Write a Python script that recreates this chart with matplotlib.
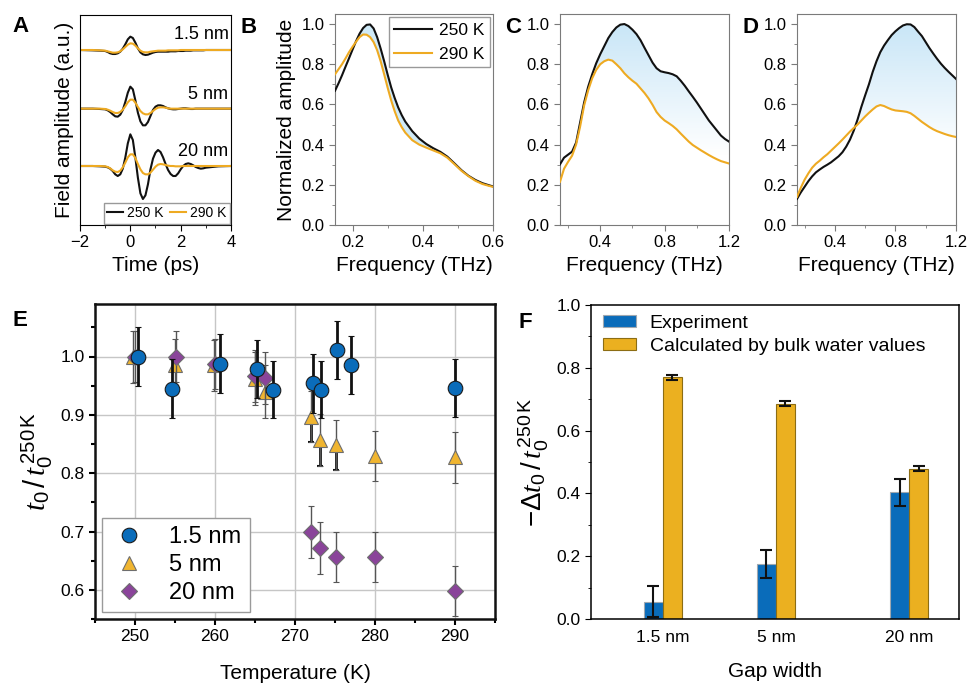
import numpy as np
import matplotlib
matplotlib.use('Agg')
import matplotlib.pyplot as plt
from matplotlib.colors import LinearSegmentedColormap
from matplotlib.lines import Line2D
from matplotlib.path import Path

plt.rcParams['font.family'] = ['Liberation Sans', 'DejaVu Sans']
plt.rcParams['mathtext.fontset'] = 'custom'
plt.rcParams['mathtext.rm'] = 'Liberation Sans'
plt.rcParams['mathtext.it'] = 'Liberation Serif:italic'
plt.rcParams['mathtext.bf'] = 'Liberation Sans:bold'

BLACK = '#111111'
YELLOW = '#eeaa22'

# ---- panel A: time-domain fields (a.u.), offset per gap ----
time_ps = np.concatenate(([-2.0, -1.5, -1.2], np.round(np.arange(-1.0, 3.05, 0.1), 2), [3.5, 4.0]))
black_20 = [0.00, 0.00, -0.01, -0.02, -0.04, -0.08, -0.15, -0.25, -0.30, -0.25,
            -0.08, 0.25, 0.68, 0.95, 0.78, 0.25, -0.35, -0.82, -0.99, -0.88,
            -0.55, -0.10, 0.22, 0.40, 0.48, 0.42, 0.26, 0.06, -0.12, -0.24,
            -0.30, -0.30, -0.22, -0.10, 0.00, 0.06, 0.08, 0.06, 0.02, -0.03,
            -0.06, -0.08, -0.07, -0.05, -0.01, 0.00]
yellow_20 = [0.00, 0.00, 0.00, -0.01, -0.03, -0.07, -0.13, -0.17, -0.18, -0.14,
             -0.04, 0.10, 0.26, 0.35, 0.35, 0.24, 0.06, -0.10, -0.21, -0.25,
             -0.25, -0.20, -0.11, -0.02, 0.04, 0.06, 0.05, 0.03, 0.01, 0.00,
             0.00, -0.01, -0.01, -0.01, 0.00, 0.00, 0.00, 0.00, 0.00, 0.00,
             0.00, 0.00, 0.00, 0.00, 0.00, 0.00]
black_5 = [0.00, 0.00, -0.01, -0.02, -0.05, -0.10, -0.17, -0.23, -0.24, -0.18,
           -0.04, 0.20, 0.48, 0.66, 0.58, 0.25, -0.12, -0.38, -0.50, -0.50,
           -0.40, -0.22, -0.04, 0.06, 0.10, 0.10, 0.08, 0.04, 0.01, -0.01,
           -0.02, -0.02, -0.01, 0.00, 0.01, 0.01, 0.00, -0.01, -0.01, 0.00,
           0.00, 0.00, 0.00, 0.00, 0.00, 0.00]
yellow_5 = [0.00, 0.00, 0.00, -0.01, -0.03, -0.06, -0.10, -0.13, -0.13, -0.10,
            -0.03, 0.07, 0.19, 0.27, 0.27, 0.18, 0.05, -0.07, -0.14, -0.17,
            -0.17, -0.13, -0.07, -0.01, 0.03, 0.04, 0.04, 0.03, 0.01, 0.00,
            0.00, 0.00, 0.00, 0.00, 0.00, 0.00, 0.00, 0.00, 0.00, 0.00,
            0.00, 0.00, 0.00, 0.00, 0.00, 0.00]
black_15 = [0.00, -0.01, -0.02, -0.03, -0.06, -0.10, -0.12, -0.12, -0.10, -0.05,
            0.04, 0.17, 0.32, 0.40, 0.36, 0.22, 0.05, -0.07, -0.13, -0.15,
            -0.14, -0.11, -0.08, -0.06, -0.05, -0.05, -0.05, -0.05, -0.05, -0.04,
            -0.04, -0.04, -0.03, -0.03, -0.03, -0.02, -0.02, -0.02, -0.01, -0.01,
            -0.01, -0.01, -0.01, 0.00, 0.00, 0.00]
yellow_15 = [0.00, 0.00, -0.01, -0.02, -0.04, -0.06, -0.08, -0.08, -0.07, -0.04,
             0.02, 0.09, 0.16, 0.20, 0.19, 0.13, 0.05, -0.02, -0.06, -0.07,
             -0.07, -0.05, -0.04, -0.03, -0.02, -0.02, -0.02, -0.02, -0.01, -0.01,
             -0.01, -0.01, -0.01, 0.00, 0.00, 0.00, 0.00, 0.00, 0.00, 0.00,
             0.00, 0.00, 0.00, 0.00, 0.00, 0.00]
gap_names = ['1.5 nm', '5 nm', '20 nm']
gap_offsets = [0.0, -1.76, -3.48]

# ---- panel B: 1.5 nm spectra ----
freq_b = [0.15, 0.16, 0.17, 0.18, 0.19, 0.20, 0.21, 0.22, 0.23, 0.24, 0.25, 0.26, 0.27,
          0.28, 0.29, 0.30, 0.31, 0.32, 0.33, 0.34, 0.35, 0.37, 0.39, 0.41, 0.43, 0.45,
          0.47, 0.49, 0.51, 0.53, 0.55, 0.57, 0.59, 0.60]
amp_b_250 = [0.668, 0.705, 0.745, 0.788, 0.830, 0.873, 0.915, 0.952, 0.980, 0.996, 0.998, 0.978, 0.935,
             0.878, 0.815, 0.748, 0.685, 0.632, 0.585, 0.547, 0.515, 0.467, 0.430, 0.403, 0.382, 0.364,
             0.340, 0.307, 0.273, 0.245, 0.224, 0.208, 0.197, 0.192]
amp_b_290 = [0.750, 0.775, 0.800, 0.829, 0.860, 0.887, 0.912, 0.935, 0.948, 0.947, 0.935, 0.910, 0.870,
             0.815, 0.750, 0.683, 0.620, 0.566, 0.520, 0.487, 0.460, 0.422, 0.400, 0.385, 0.371, 0.357,
             0.335, 0.303, 0.270, 0.243, 0.220, 0.204, 0.194, 0.190]

# ---- panels C, D: 5 nm and 20 nm spectra (0.15 ... 1.2 THz, 0.025 step) ----
freq_cd = np.round(np.linspace(0.15, 1.2, 43), 3)
amp_c_250 = [0.302, 0.335, 0.350, 0.365, 0.410, 0.510, 0.610, 0.688, 0.750, 0.805, 0.850,
             0.890, 0.930, 0.960, 0.983, 0.997, 1.000, 0.990, 0.972, 0.950, 0.920, 0.882,
             0.845, 0.808, 0.780, 0.765, 0.760, 0.756, 0.750, 0.740, 0.718, 0.693, 0.665,
             0.638, 0.610, 0.580, 0.550, 0.520, 0.495, 0.470, 0.445, 0.428, 0.415]
amp_c_290 = [0.215, 0.280, 0.314, 0.345, 0.400, 0.490, 0.595, 0.670, 0.730, 0.772, 0.800,
             0.815, 0.823, 0.818, 0.800, 0.780, 0.755, 0.735, 0.718, 0.703, 0.680, 0.657,
             0.630, 0.598, 0.562, 0.538, 0.520, 0.507, 0.493, 0.476, 0.455, 0.435, 0.415,
             0.398, 0.385, 0.372, 0.360, 0.348, 0.337, 0.327, 0.318, 0.312, 0.306]
amp_d_250 = [0.130, 0.162, 0.190, 0.218, 0.242, 0.262, 0.276, 0.289, 0.300, 0.312, 0.327,
             0.342, 0.362, 0.390, 0.425, 0.470, 0.525, 0.588, 0.645, 0.700, 0.762, 0.815,
             0.860, 0.893, 0.920, 0.945, 0.964, 0.980, 0.993, 0.999, 0.998, 0.985, 0.962,
             0.940, 0.910, 0.880, 0.853, 0.827, 0.803, 0.782, 0.763, 0.745, 0.727]
amp_d_290 = [0.140, 0.185, 0.225, 0.257, 0.285, 0.305, 0.320, 0.337, 0.352, 0.370, 0.388,
             0.406, 0.425, 0.445, 0.465, 0.483, 0.500, 0.520, 0.540, 0.558, 0.575, 0.590,
             0.597, 0.592, 0.583, 0.575, 0.570, 0.568, 0.566, 0.563, 0.556, 0.543, 0.528,
             0.513, 0.500, 0.487, 0.476, 0.467, 0.460, 0.453, 0.447, 0.442, 0.438]

# ---- panel E: t0 ratio vs temperature ----
temp_15 = [250.4, 254.6, 260.6, 265.2, 267.3, 272.3, 273.2, 275.3, 277.0, 290.0]
ratio_15 = [1.000, 0.945, 0.988, 0.979, 0.943, 0.954, 0.943, 1.011, 0.986, 0.946]
err_15 = [0.050, 0.050, 0.050, 0.050, 0.049, 0.050, 0.049, 0.050, 0.050, 0.049]
temp_5 = [249.8, 255.0, 259.9, 265.0, 266.2, 272.0, 273.1, 275.1, 280.0, 290.0]
ratio_5 = [0.999, 0.985, 0.985, 0.962, 0.940, 0.897, 0.857, 0.848, 0.829, 0.827]
err_5 = [0.045, 0.045, 0.044, 0.045, 0.045, 0.044, 0.045, 0.043, 0.043, 0.043]
temp_20 = [250.0, 255.1, 260.0, 265.0, 266.2, 272.0, 273.1, 275.1, 280.0, 290.0]
ratio_20 = [1.000, 1.000, 0.987, 0.967, 0.963, 0.699, 0.672, 0.657, 0.657, 0.598]
err_20 = [0.043, 0.043, 0.043, 0.045, 0.045, 0.044, 0.044, 0.043, 0.043, 0.043]

# ---- panel F: bars ----
gap_labels = ['1.5 nm', '5 nm', '20 nm']
exp_val = [0.055, 0.176, 0.403]
exp_err = [0.050, 0.045, 0.043]
calc_val = [0.770, 0.686, 0.479]
calc_err = [0.008, 0.009, 0.008]

W, H = 969, 685
fig = plt.figure(figsize=(W / 100, H / 100), dpi=100)


def box(l, t, r, b):
    return [l / W, 1 - b / H, (r - l) / W, (b - t) / H]


def letter(x, y, s):
    fig.text(x / W, 1 - y / H, s, fontsize=16, fontweight='bold', va='top', ha='left')


# ---------- A ----------
axA = fig.add_axes(box(80, 15, 231, 225))
for off, bk, yl in zip(gap_offsets, [black_15, black_5, black_20], [yellow_15, yellow_5, yellow_20]):
    axA.plot(time_ps, np.array(bk) + off, color=BLACK, lw=1.5)
    axA.plot(time_ps, np.array(yl) + off, color=YELLOW, lw=1.5)
for off, name in zip(gap_offsets, gap_names):
    axA.text(3.9, off + 0.45 - (0.03 if off else 0), name, ha='right', va='center', fontsize=13)
axA.set_xlim(-2, 4)
axA.set_ylim(-5.25, 1.05)
axA.set_yticks([])
axA.set_xticks([-2, 0, 2, 4])
axA.set_xticks([-1, 1, 3], minor=True)
axA.set_xticklabels(['\u22122', '0', '2', '4'])
axA.tick_params(labelsize=12, length=4)
axA.tick_params(which='minor', length=2.5)
axA.set_xlabel('Time (ps)', fontsize=15)
axA.set_ylabel('Field amplitude (a.u.)', fontsize=15, labelpad=4)
axA.legend([Line2D([], [], color=BLACK, lw=1.5), Line2D([], [], color=YELLOW, lw=1.5)],
           ['250 K', '290 K'], ncol=2, loc='lower right', fontsize=10, handlelength=1.1,
           handletextpad=0.3, columnspacing=0.5, borderpad=0.25, borderaxespad=0.1,
           fancybox=False, edgecolor='#999999', framealpha=1)
letter(12, 16, 'A')


def spectrum_axes(rect, freq, hot, cold, xlim, xmaj, xmin, gradient):
    ax = fig.add_axes(rect)
    f = np.array(freq)
    hot = np.array(hot)
    cold = np.array(cold)
    if gradient:
        poly = ax.fill_between(f, hot, cold, where=hot >= cold, interpolate=True,
                               facecolor='none', edgecolor='none')
        cmap = LinearSegmentedColormap.from_list('fade', ['#ffffff', '#c9e6f7'])
        grad = np.linspace(0, 1.05, 256)[:, None]
        im = ax.imshow(grad, extent=[xlim[0], xlim[1], 0, 1.05], origin='lower',
                       cmap=cmap, vmin=0.35, vmax=1.0, aspect='auto', zorder=1)
        im.set_clip_path(Path.make_compound_path(*poly.get_paths()), transform=ax.transData)
    else:
        ax.fill_between(f, hot, cold, where=hot >= cold, interpolate=True,
                        color='#cfeaf8', lw=0, zorder=1)
    ax.plot(f, hot, color=BLACK, lw=1.5, zorder=3, label='250 K')
    ax.plot(f, cold, color=YELLOW, lw=1.5, zorder=4, label='290 K')
    ax.set_xlim(*xlim)
    ax.set_ylim(0, 1.05)
    ax.set_yticks(np.arange(0, 1.01, 0.2))
    ax.set_yticks(np.arange(0, 1.01, 0.1), minor=True)
    ax.set_xticks(xmaj)
    ax.set_xticks(xmin, minor=True)
    ax.set_xticklabels([f'{v:.1f}' for v in xmaj])
    ax.set_yticklabels([f'{v:.1f}' for v in np.arange(0, 1.01, 0.2)])
    for s in ax.spines.values():
        s.set_color('#7a7a7a')
    ax.tick_params(labelsize=12, length=4, color='#7a7a7a')
    ax.tick_params(which='minor', length=2.5, color='#7a7a7a')
    ax.set_xlabel('Frequency (THz)', fontsize=15)
    return ax


axB = spectrum_axes(box(335, 14, 493, 225), freq_b, amp_b_250, amp_b_290, (0.15, 0.6),
                    [0.2, 0.4, 0.6], [0.3, 0.5], False)
axB.set_ylabel('Normalized amplitude', fontsize=15, labelpad=4)
axB.legend(loc='upper right', fontsize=12.5, handlelength=2.2, handletextpad=0.4,
           borderpad=0.3, borderaxespad=0.2, fancybox=False, edgecolor='#999999', framealpha=1)
letter(241, 17, 'B')

axC = spectrum_axes(box(560, 14, 729, 225), freq_cd, amp_c_250, amp_c_290, (0.15, 1.2),
                    [0.4, 0.8, 1.2], [0.2, 0.6, 1.0], True)
letter(505, 17, 'C')
axD = spectrum_axes(box(797, 14, 956, 225), freq_cd, amp_d_250, amp_d_290, (0.15, 1.2),
                    [0.4, 0.8, 1.2], [0.2, 0.6, 1.0], True)
letter(743, 17, 'D')

# ---------- E ----------
axE = fig.add_axes(box(95, 304, 495, 619))
axE.grid(True, color='#c6c6c6', lw=1, zorder=0)
axE.set_axisbelow(True)
h5 = axE.errorbar(temp_5, ratio_5, yerr=err_5, fmt='^', ms=10.5, mfc='#f0b530', mec='#6e6e6e',
                  mew=0.8, ecolor='#555555', elinewidth=1, capsize=2.5, capthick=1, zorder=3)
bold = slice(5, 8)
axE.errorbar(temp_5[bold], ratio_5[bold], yerr=[err_5[bold], [0] * 3], fmt='none', ecolor=BLACK,
             elinewidth=2, capsize=2, capthick=1.5, zorder=2)
h20 = axE.errorbar(temp_20, ratio_20, yerr=err_20, fmt='D', ms=8.5, mfc='#8a449a', mec='#6e6e6e',
                   mew=0.8, ecolor='#555555', elinewidth=1, capsize=2.5, capthick=1, zorder=4)
h15 = axE.errorbar(temp_15, ratio_15, yerr=err_15, fmt='o', ms=10.5, mfc='#0a6cba', mec='#1a1a1a',
                   mew=0.8, ecolor=BLACK, elinewidth=2, capsize=2, capthick=1.5, zorder=5)
axE.set_xlim(245, 295)
axE.set_ylim(0.553, 1.09)
axE.set_xticks([250, 260, 270, 280, 290])
axE.set_xticks([245, 255, 265, 275, 285, 295], minor=True)
axE.set_yticks([0.6, 0.7, 0.8, 0.9, 1.0])
axE.set_yticks([0.55, 0.65, 0.75, 0.85, 0.95, 1.05], minor=True)
axE.set_yticklabels(['0.6', '0.7', '0.8', '0.9', '1.0'])
for s in axE.spines.values():
    s.set_linewidth(1.8)
    s.set_color(BLACK)
axE.tick_params(labelsize=12.5, length=4, width=1.5)
axE.tick_params(which='minor', length=3, width=1.5)
axE.set_xlabel('Temperature (K)', fontsize=15, labelpad=14)
axE.set_ylabel(r'$t_0\,/\,t_0^{\,250\,\mathrm{K}}$', fontsize=21, labelpad=4)
leg = axE.legend([h15[0], h5[0], h20[0]], ['1.5 nm', '5 nm', '20 nm'], loc='lower left',
                 bbox_to_anchor=(0.018, 0.022), borderaxespad=0, fontsize=17, handletextpad=0.9,
                 labelspacing=0.25, borderpad=0.35, fancybox=False, edgecolor='#9a9a9a',
                 framealpha=1, handlelength=1.6)
leg.get_frame().set_linewidth(1)
letter(12, 310, 'E')

# ---------- F ----------
axF = fig.add_axes(box(591, 305, 959, 619))
gap_pos = [0.0, 1.0, 2.18]
bw = 0.168
xp = np.array(gap_pos)
axF.bar(xp - bw / 2, exp_val, bw, color='#0a6cba', edgecolor='#a0a8b0', lw=0.8,
        label='Experiment', zorder=2)
axF.bar(xp + bw / 2, calc_val, bw, color='#ebb020', edgecolor='#8c6d14', lw=0.8,
        label='Calculated by bulk water values', zorder=2)
axF.errorbar(xp - bw / 2, exp_val, yerr=exp_err, fmt='none', ecolor=BLACK, elinewidth=1.5,
             capsize=4.5, capthick=1.5, zorder=3)
axF.errorbar(xp + bw / 2, calc_val, yerr=calc_err, fmt='none', ecolor=BLACK, elinewidth=1.5,
             capsize=4.5, capthick=1.5, zorder=3)
axF.set_xlim(-0.637, 2.62)
axF.set_ylim(0, 1.0)
axF.set_xticks(gap_pos)
axF.set_xticklabels(gap_labels)
axF.set_yticks(np.arange(0, 1.01, 0.2))
axF.set_yticks(np.arange(0.1, 1.0, 0.2), minor=True)
axF.set_yticklabels([f'{v:.1f}' for v in np.arange(0, 1.01, 0.2)])
axF.tick_params(axis='x', length=0, labelsize=12.5, pad=8)
axF.tick_params(axis='y', labelsize=12.5, length=4)
axF.tick_params(axis='y', which='minor', length=2.5)
for s in axF.spines.values():
    s.set_linewidth(1.1)
axF.set_xlabel('Gap width', fontsize=15, labelpad=12)
axF.set_ylabel(r'$-\Delta t_0\,/\,t_0^{\,250\,\mathrm{K}}$', fontsize=20, labelpad=4)
axF.legend(loc='upper left', bbox_to_anchor=(-0.015, 1.025), fontsize=14, frameon=False,
           handlelength=1.7, handleheight=0.6, handletextpad=0.7, labelspacing=0.3)
letter(519, 312, 'F')

fig.savefig('out.png', dpi=100)
